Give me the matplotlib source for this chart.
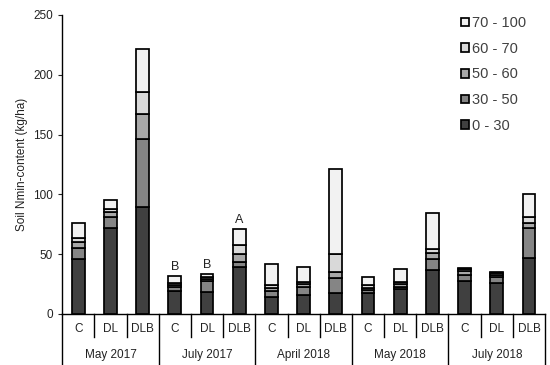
import matplotlib
matplotlib.use("Agg")
import matplotlib.pyplot as plt
import matplotlib.transforms as mtransforms
import numpy as np

plt.rcParams['font.family'] = ['Liberation Sans', 'DejaVu Sans']

treatments = ["C", "DL", "DLB"] * 5
dates = ["May 2017", "July 2017", "April 2018", "May 2018", "July 2018"]
layer_names = ["0 - 30", "30 - 50", "50 - 60", "60 - 70", "70 - 100"]

l0_30 = [45.7, 71.6, 89.5, 19.5, 18.7, 39.0, 14.0, 15.9, 17.8, 17.3, 21.0, 36.8, 27.4, 25.6, 47.1]
l30_50 = [9.8, 9.8, 56.6, 2.8, 9.2, 4.2, 5.2, 6.9, 12.6, 2.5, 1.3, 9.2, 4.8, 5.5, 24.5]
l50_60 = [4.5, 3.9, 21.1, 1.5, 1.6, 7.2, 2.8, 2.2, 5.0, 2.2, 2.8, 4.7, 3.5, 1.2, 4.7]
l60_70 = [3.3, 2.5, 18.7, 1.8, 1.7, 7.6, 2.2, 2.0, 14.5, 2.0, 1.9, 3.6, 1.5, 1.5, 5.1]
l70_100 = [12.5, 7.2, 35.4, 6.2, 2.0, 12.8, 17.6, 12.0, 71.6, 6.9, 10.9, 30.1, 1.5, 1.0, 18.9]

letters = {3: "B", 4: "B", 5: "A"}

layers = [l0_30, l30_50, l50_60, l60_70, l70_100]
colors = ["#404040", "#858585", "#a8a8a8", "#d9d9d9", "#f2f2f2"]

fig = plt.figure(figsize=(5.5, 3.65), dpi=100)
ax = fig.add_axes([0.113, 0.140, 0.878, 0.819])

x = np.arange(len(treatments)) + 0.5
bottom = np.zeros(len(treatments))
handles = []
for vals, col, name in zip(layers, colors, layer_names):
    h = ax.bar(x, vals, width=0.4, bottom=bottom, color=col, edgecolor="black",
               linewidth=1.25, label=name, zorder=3)
    handles.append(h)
    bottom = bottom + np.array(vals)

for i, t in letters.items():
    ax.annotate(t, (x[i], bottom[i]), xytext=(0, 2), textcoords="offset points",
                ha="center", va="bottom", fontsize=9, color="#222222")

ax.set_xlim(0, 15)
ax.set_ylim(0, 250)
ax.set_yticks(np.arange(0, 251, 50))
ax.tick_params(axis="y", direction="out", length=3, labelsize=8.5, colors="#222222")
ax.set_xticks([])
for s in ["top", "right"]:
    ax.spines[s].set_visible(False)
ax.spines["left"].set_linewidth(1.0)
ax.spines["bottom"].set_linewidth(1.0)
ax.set_ylabel("Soil Nmin-content (kg/ha)", fontsize=8.5, color="#222222", labelpad=4)

trans = mtransforms.blended_transform_factory(ax.transData, ax.transAxes)
for b in range(16):
    if b % 3 == 0:
        ax.plot([b, b], [0, -0.175], transform=trans, color="black", lw=1.0, clip_on=False)
    else:
        ax.plot([b, b], [0, -0.078], transform=trans, color="black", lw=1.0, clip_on=False)
for xi, t in zip(x, treatments):
    ax.text(xi, -0.052, t, transform=trans, ha="center", va="center", fontsize=8.5, color="#222222")
for g, d in enumerate(dates):
    ax.text(g * 3 + 1.5, -0.136, d, transform=trans, ha="center", va="center", fontsize=8.5, color="#222222")

leg = ax.legend(handles[::-1], layer_names[::-1], loc="upper right", bbox_to_anchor=(0.987, 1.04),
                frameon=False, fontsize=10.5, handlelength=0.55, handleheight=0.55,
                handletextpad=0.15, labelspacing=0.8)
for t in leg.get_texts():
    t.set_color("#404040")

fig.savefig("out.png", dpi=100)
